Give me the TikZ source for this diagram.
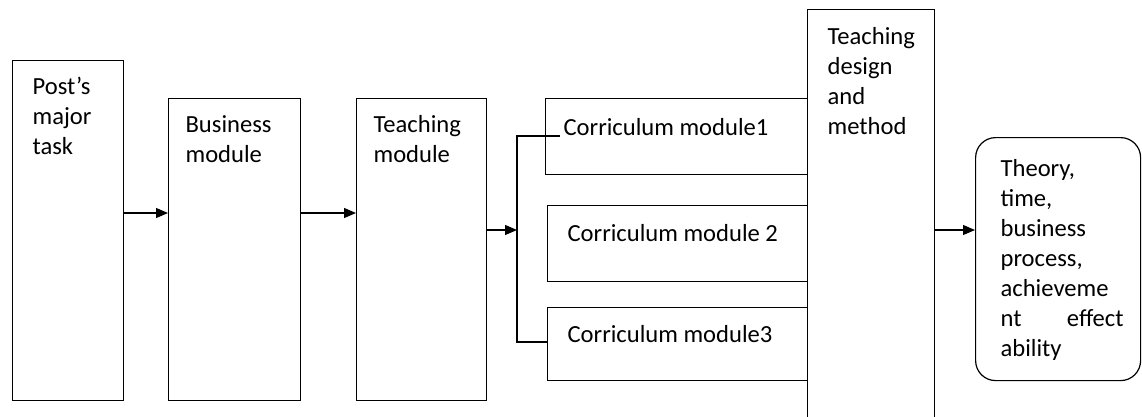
\documentclass[tikz,border=0pt]{standalone}
\usepackage{fontspec}
\setmainfont{Carlito}
\usetikzlibrary{arrows.meta}
\usetikzlibrary{calc}

\begin{document}
\begin{tikzpicture}[x=1pt, y=-1pt, line width=1.2pt,
    box/.style={draw, inner sep=0pt, anchor=north west},
    lbl/.style={anchor=north west, align=left, inner sep=0pt,
      execute at begin node={\rule{0pt}{20pt}},
      font=\fontsize{24.6}{30}\selectfont},
    arr/.style={-{Triangle[length=12pt, width=10pt]}}]
    \useasboundingbox (0,0) rectangle (1142,416);
    \clip (0,0) rectangle (1142,416);
    % chain of modules
    \node [box, minimum width=111pt, minimum height=340pt,
      label={[lbl, xshift=20pt, yshift=-17pt]north west:{Post’s\\major\\task}}] (post) at (12,60) {};
    \node [box, minimum width=132pt, minimum height=302pt,
      label={[lbl, xshift=17pt, yshift=-17pt]north west:{Business\\module}}] (busi) at (168,98) {};
    \node [box, minimum width=130pt, minimum height=302pt,
      label={[lbl, xshift=17pt, yshift=-17pt]north west:{Teaching\\module}}] (teach) at (356,98) {};
    \node [box, minimum width=262pt, minimum height=76pt,
      label={[lbl, xshift=18pt, yshift=-17pt]north west:{Corriculum module1}}] (cm1) at (545,98) {};
    \node [box, minimum width=260pt, minimum height=76pt,
      label={[lbl, xshift=20pt, yshift=-16pt]north west:{Corriculum module 2}}] (cm2) at (547,205) {};
    \node [box, minimum width=260pt, minimum height=73pt,
      label={[lbl, xshift=20pt, yshift=-15pt]north west:{Corriculum module3}}] (cm3) at (547,307) {};
    \node [box, minimum width=127pt, minimum height=421pt,
      label={[lbl, xshift=20pt, yshift=-18pt]north west:{Teaching\\design\\and\\method}}] (design) at (807,9) {};
    \node [box, rounded corners=20pt, minimum width=165pt, minimum height=243pt,
      label={[lbl, text width=123pt, xshift=25pt, yshift=-19pt]north west:{Theory,\\time,\\business\\process,\\achieveme\\nt\hfill effect\\ability}}] (result) at (975,137) {};
    % connectors
    \coordinate (r1) at (0,213);
    \coordinate (fork) at (517,230);
    \coordinate (ftop) at (517,136);
    \coordinate (fbot) at (517,342);
    \draw [arr] (post.east |- r1) -- (busi.west |- r1);
    \draw [arr] (busi.east |- r1) -- (teach.west |- r1);
    \draw [arr] (teach.east |- fork) -- (fork);
    \draw ($(cm1.west |- ftop)+(15,0)$) -- (ftop) -- (fbot) -- (cm3.west |- fbot);
    \draw [arr] (design.east |- fork) -- (result.west |- fork);
  \end{tikzpicture}
\end{document}
